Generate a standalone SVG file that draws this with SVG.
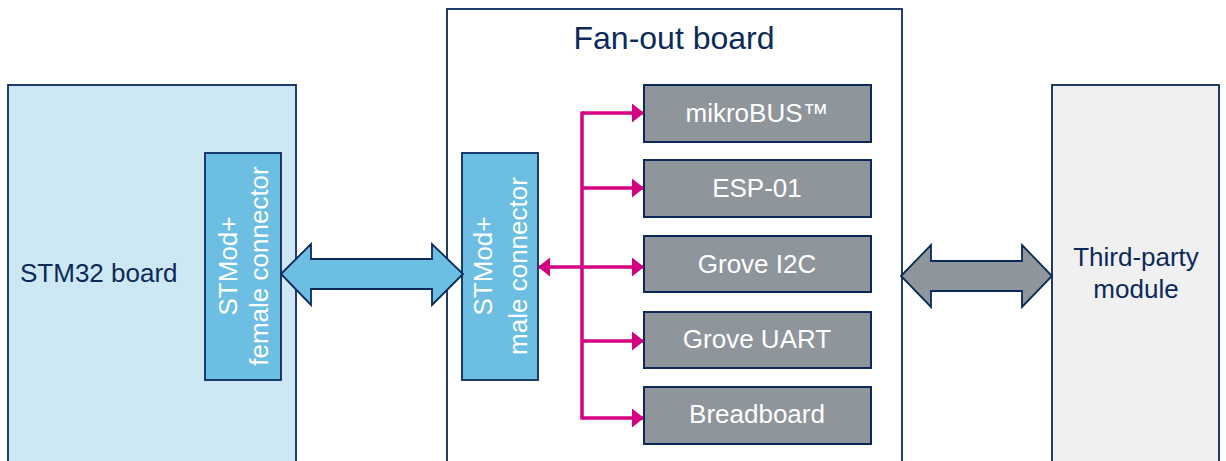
<svg xmlns="http://www.w3.org/2000/svg" width="1226" height="461" viewBox="0 0 1226 461">
<style>
text{font-family:"Liberation Sans",Arial,sans-serif;font-size:26px;}
.nav{fill:#0b2a5b;}
.wt{fill:#ffffff;}
.bd{stroke:#0b2a5b;stroke-width:1.8;}
.box{fill:#8e959b;stroke:#0b2a5b;stroke-width:2;}
.pk{stroke:#d5007f;stroke-width:3.5;fill:none;}
</style>
<defs>
<marker id="ah" markerWidth="12" markerHeight="19" refX="11" refY="9.5" orient="auto-start-reverse" markerUnits="userSpaceOnUse">
<path d="M0,0 L12,9.5 L0,19 Z" fill="#d5007f"/>
</marker>
</defs>
<g id="stm32">
<rect x="8" y="85" width="288" height="390" fill="#cde7f4" class="bd"/>
<text x="20" y="282" class="nav">STM32 board</text>
</g>
<g id="female">
<rect x="205" y="153" width="76" height="227" fill="#6cbee3" class="bd"/>
<text transform="translate(237,266) rotate(-90)" class="wt" text-anchor="middle">STMod+</text>
<text transform="translate(268,266) rotate(-90)" class="wt" text-anchor="middle">female connector</text>
</g>
<g id="fanout">
<rect x="447" y="9" width="455" height="470" fill="#ffffff" class="bd"/>
<text x="674" y="49" style="font-size:32px" class="nav" text-anchor="middle">Fan-out board</text>
</g>
<g id="male">
<rect x="462" y="153" width="76" height="227" fill="#6cbee3" class="bd"/>
<text transform="translate(492,266) rotate(-90)" class="wt" text-anchor="middle">STMod+</text>
<text transform="translate(527,266) rotate(-90)" class="wt" text-anchor="middle">male connector</text>
</g>
<g id="third">
<rect x="1052" y="85" width="167" height="390" fill="#f0f0f1" class="bd"/>
<text x="1136" y="266" class="nav" text-anchor="middle">Third-party</text>
<text x="1136" y="298" class="nav" text-anchor="middle">module</text>
</g>
<g id="mikrobus"><rect x="644" y="85" width="227" height="57" class="box"/><text x="757" y="122" class="wt" text-anchor="middle">mikroBUS™</text></g>
<g id="esp01"><rect x="644" y="160" width="227" height="57" class="box"/><text x="757" y="197" class="wt" text-anchor="middle">ESP-01</text></g>
<g id="grovei2c"><rect x="644" y="236" width="227" height="56" class="box"/><text x="757" y="273" class="wt" text-anchor="middle">Grove I2C</text></g>
<g id="groveuart"><rect x="644" y="312" width="227" height="56" class="box"/><text x="757" y="348" class="wt" text-anchor="middle">Grove UART</text></g>
<g id="breadboard"><rect x="644" y="387" width="227" height="57" class="box"/><text x="757" y="423" class="wt" text-anchor="middle">Breadboard</text></g>
<g id="connectors">
<path d="M281,274 L311,244 L311,259 L432,259 L432,244 L463,274 L432,305 L432,289 L311,289 L311,305 Z" fill="#6cbee3" class="bd"/>
<path d="M901,276 L931,245 L931,261 L1022,261 L1022,245 L1052,276 L1022,307 L1022,291 L931,291 L931,307 Z" fill="#8e959b" class="bd"/>
<path d="M582,111.5 L582,419.5" class="pk"/>
<path d="M582,113 L643,113" class="pk" marker-end="url(#ah)"/>
<path d="M582,188 L643,188" class="pk" marker-end="url(#ah)"/>
<path d="M539,267 L643,267" class="pk" marker-start="url(#ah)" marker-end="url(#ah)"/>
<path d="M582,341 L643,341" class="pk" marker-end="url(#ah)"/>
<path d="M582,418 L643,418" class="pk" marker-end="url(#ah)"/>
</g>
</svg>
